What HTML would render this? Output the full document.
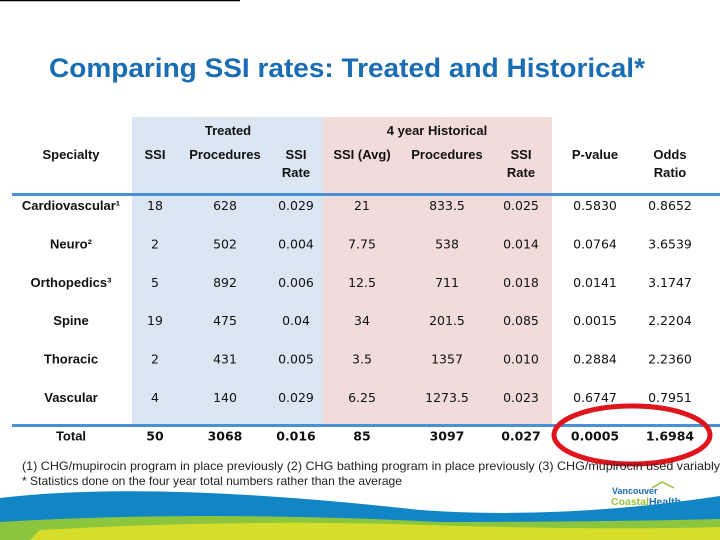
<!DOCTYPE html>
<html><head><meta charset="utf-8"><style>
html,body{margin:0;padding:0;background:#fff}
svg{display:block}
.h{font-family:"Liberation Sans",sans-serif;font-size:13px;font-weight:bold;fill:#111}
.c{font-family:"DejaVu Sans","Liberation Sans",sans-serif;font-size:12.5px;fill:#111}
.b{font-weight:bold}
.f{font-family:"Liberation Sans",sans-serif;font-size:12px;fill:#222}
</style></head><body>
<svg width="720" height="540" viewBox="0 0 720 540">
<line x1="0" y1="0.5" x2="240" y2="0.5" stroke="#000" stroke-width="1.5"/>
<text x="49" y="77" textLength="596" lengthAdjust="spacingAndGlyphs" style="font-family:'Liberation Sans',sans-serif;font-size:27px;font-weight:bold;fill:#1b6db3">Comparing  SSI rates: Treated and Historical*</text>
<rect x="132" y="117" width="191" height="308" fill="#dce6f2"/>
<rect x="323" y="117" width="229" height="308" fill="#f2dcdb"/>
<rect x="12" y="193" width="708" height="3" fill="#4a90d9"/>
<rect x="12" y="424" width="708" height="3" fill="#4a90d9"/>
<g class="h" text-anchor="middle">
<text x="228" y="135">Treated</text>
<text x="437" y="135">4 year Historical</text>
<text x="71" y="159">Specialty</text>
<text x="155" y="159">SSI</text>
<text x="225" y="159">Procedures</text>
<text x="296" y="159">SSI</text>
<text x="296" y="177">Rate</text>
<text x="362" y="159">SSI (Avg)</text>
<text x="447" y="159">Procedures</text>
<text x="521" y="159">SSI</text>
<text x="521" y="177">Rate</text>
<text x="595" y="159">P-value</text>
<text x="670" y="159">Odds</text>
<text x="670" y="177">Ratio</text>
</g>
<g id="rows"></g>
<ellipse cx="632" cy="435" rx="78" ry="29" fill="none" stroke="#e0141c" stroke-width="5"/>
<text class="f" x="22" y="470" textLength="698" lengthAdjust="spacingAndGlyphs">(1) CHG/mupirocin program in place previously (2) CHG bathing program in place previously (3) CHG/mupirocin used variably</text>
<text class="f" x="22" y="485" textLength="380" lengthAdjust="spacingAndGlyphs">* Statistics done on the four year total numbers rather than the average</text>
<g>
<text x="612" y="494" style="font-family:'Liberation Sans',sans-serif;font-size:9px;font-weight:bold;fill:#1b6db3">Vancouver</text>
<text x="611" y="505" style="font-family:'Liberation Sans',sans-serif;font-size:10.5px;font-weight:bold;fill:#9bbf3a">Coastal<tspan fill="#1b6db3">Health</tspan></text>
<path d="M652 488 L662 482 L674 488" fill="none" stroke="#9bbf3a" stroke-width="1.5"/>
<line x1="618" y1="510" x2="672" y2="510" stroke="#6a8fb0" stroke-width="0.8"/>
</g>
<path d="M0 498 Q150 480 420 510 Q560 520 720 496 L720 540 L0 540 Z" fill="#1286c5"/>
<path d="M0 522 Q200 510 440 522 Q600 522 720 519 L720 540 L0 540 Z" fill="#8cc63f"/>
<path d="M40 530 Q250 518 460 526 Q620 530 720 527 L720 540 L30 540 Z" fill="#d6dd2a"/>
</svg>
<script>
const specialties=["Cardiovascular¹","Neuro²","Orthopedics³","Spine","Thoracic","Vascular","Total"];
const treatedSSI=["18","2","5","19","2","4","50"];
const treatedProc=["628","502","892","475","431","140","3068"];
const treatedRate=["0.029","0.004","0.006","0.04","0.005","0.029","0.016"];
const histSSI=["21","7.75","12.5","34","3.5","6.25","85"];
const histProc=["833.5","538","711","201.5","1357","1273.5","3097"];
const histRate=["0.025","0.014","0.018","0.085","0.010","0.023","0.027"];
const pValues=["0.5830","0.0764","0.0141","0.0015","0.2884","0.6747","0.0005"];
const oddsRatios=["0.8652","3.6539","3.1747","2.2204","2.2360","0.7951","1.6984"];
const NS="http://www.w3.org/2000/svg";
const g=document.getElementById('rows');
const cols=[[71,specialties,'h'],[155,treatedSSI,'c'],[225,treatedProc,'c'],[296,treatedRate,'c'],[362,histSSI,'c'],[447,histProc,'c'],[521,histRate,'c'],[595,pValues,'c'],[670,oddsRatios,'c']];
const colNames=['specialty','treated-ssi','treated-procedures','treated-rate','historical-ssi','historical-procedures','historical-rate','p-value','odds-ratio'];
for(let r=0;r<specialties.length;r++){
  const y=210+r*38.4;
  cols.forEach((c,i)=>{
    const t=document.createElementNS(NS,'text');
    t.setAttribute('x',c[0]);t.setAttribute('y',y);
    t.setAttribute('text-anchor','middle');
    t.setAttribute('class',c[2]+(r===specialties.length-1?' b':''));
    
    
    t.textContent=c[1][r];
    g.appendChild(t);
  });
}
</script>
</body></html>
